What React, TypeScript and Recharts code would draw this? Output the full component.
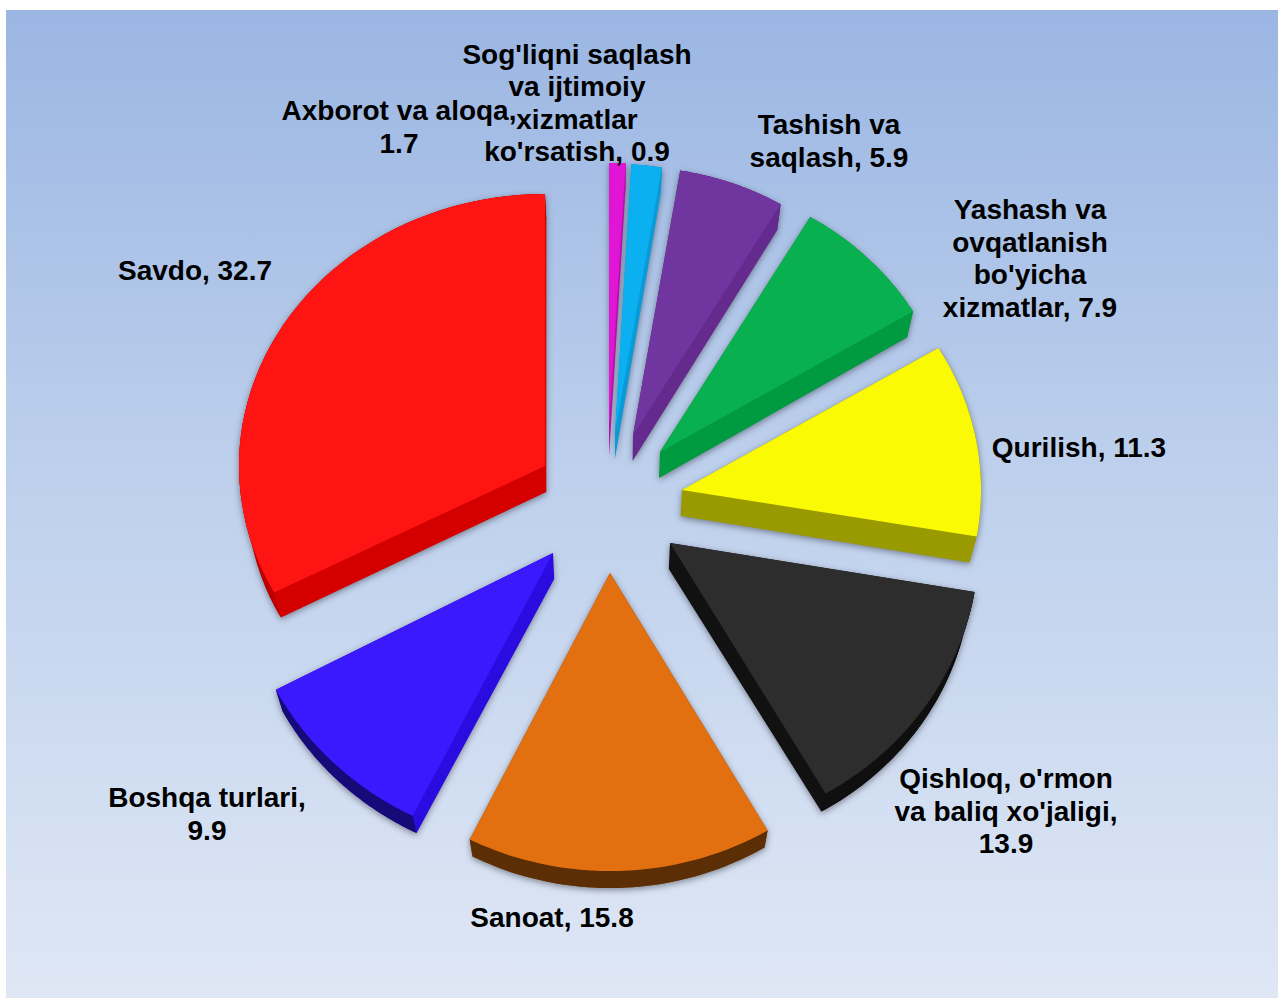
import React from 'react';
import { PieChart, Pie } from 'recharts';

const categories = ["Sog'liqni saqlash va ijtimoiy xizmatlar ko'rsatish", 'Axborot va aloqa', 'Tashish va saqlash', 'Yashash va ovqatlanish bo\'yicha xizmatlar', 'Qurilish', "Qishloq, o'rmon va baliq xo'jaligi", 'Sanoat', 'Boshqa turlari', 'Savdo'];
const values = [0.9, 1.7, 5.9, 7.9, 11.3, 13.9, 15.8, 9.9, 32.7];
const labelLines = [
  ["Sog'liqni saqlash", 'va ijtimoiy', 'xizmatlar', "ko'rsatish, 0.9"],
  ['Axborot va aloqa,', '1.7'],
  ['Tashish va', 'saqlash, 5.9'],
  ['Yashash va', 'ovqatlanish', "bo'yicha", 'xizmatlar, 7.9'],
  ['Qurilish, 11.3'],
  ["Qishloq, o'rmon", "va baliq xo'jaligi,", '13.9'],
  ['Sanoat, 15.8'],
  ['Boshqa turlari,', '9.9'],
  ['Savdo, 32.7'],
];
const faceColors = ['#e015d5', '#0ab0f0', '#7135a0', '#08b050', '#fafa05', '#2d2d2d', '#e37010', '#3a19ff', '#ff1414'];
const sideColors = ['#b810a8', '#0a9ad8', '#642a8d', '#009a40', '#999900', '#111111', '#8a4a0a', '#2a0ce0', '#d40000'];
const rimColors = ['#b810a8', '#0a9ad8', '#642a8d', '#009a40', '#999900', '#0f0f0f', '#5c2e06', '#150a78', '#b80000'];

// page position of the plot, and the per-slice explosion / perspective
const PAGE_X = 6;
const PAGE_Y = 10;
const CHART_W = 1272;
const CHART_H = 988;
const CX = 612 - PAGE_X;
const CY = 508 - PAGE_Y;
const apexX = [609, 615, 633, 660, 682, 670, 610, 553, 545];
const apexY = [430, 433, 435, 452, 490, 543, 573, 553, 466];
const radiusX = [296, 288, 290, 295, 299, 309, 313, 313, 306];
const radiusY = [267, 269, 268, 273, 276, 290, 298, 294, 272];
const labelX = [577, 399, 829, 1030, 1079, 1006, 552, 207, 195];
const labelY = [63.5, 120, 134, 219, 457, 788, 927, 807, 280];
const LINE_H = 32.5;

type P = { x: number; y: number };

const wall = (p: P): P => {
  const py = p.y + PAGE_Y;
  const dy = py <= 560 ? 26 : Math.max(17, 26 - (py - 560) * 0.034);
  return { x: p.x + (CX - p.x) * 0.02, y: p.y + dy };
};

const hull = (pts: P[]): P[] => {
  const s = [...pts].sort((a, b) => a.x - b.x || a.y - b.y);
  const cross = (o: P, a: P, b: P) => (a.x - o.x) * (b.y - o.y) - (a.y - o.y) * (b.x - o.x);
  const lower: P[] = [];
  for (const p of s) {
    while (lower.length >= 2 && cross(lower[lower.length - 2], lower[lower.length - 1], p) <= 0) lower.pop();
    lower.push(p);
  }
  const upper: P[] = [];
  for (const p of [...s].reverse()) {
    while (upper.length >= 2 && cross(upper[upper.length - 2], upper[upper.length - 1], p) <= 0) upper.pop();
    upper.push(p);
  }
  return [...lower.slice(0, -1), ...upper.slice(0, -1)];
};

const toPath = (pts: P[]) => pts.map((p, i) => `${i ? 'L' : 'M'}${p.x.toFixed(1)} ${p.y.toFixed(1)}`).join('') + 'Z';

const Slice = (props: any) => {
  const i = categories.indexOf(props.name ?? props.payload?.name);
  const ax = apexX[i] - PAGE_X;
  const ay = apexY[i] - PAGE_Y;
  const a0 = props.startAngle;
  const a1 = props.endAngle;
  const arc: P[] = [];
  const n = 48;
  for (let k = 0; k <= n; k++) {
    const t = ((a0 + (a1 - a0) * (k / n)) * Math.PI) / 180;
    arc.push({ x: ax + radiusX[i] * Math.cos(t), y: ay - radiusY[i] * Math.sin(t) });
  }
  const apex = { x: ax, y: ay };
  const face = [apex, ...arc];
  const side = hull([...face, ...face.map(wall)]);
  const rim = [...arc, ...arc.map(wall).reverse()];
  return (
    <g style={{ filter: 'drop-shadow(0px 2px 3px rgba(40,40,50,0.5))' }}>
      <path d={toPath(side)} fill={sideColors[i]} />
      <path d={toPath(rim)} fill={rimColors[i]} />
      <path d={toPath(face)} fill={faceColors[i]} />
    </g>
  );
};

const renderLabel = (props: any) => {
  const i = props.index;
  return (
    <text
      key={i}
      x={labelX[i] - PAGE_X}
      y={labelY[i] - PAGE_Y}
      textAnchor="middle"
      fontFamily="'Liberation Sans', Arial, sans-serif"
      fontWeight="bold"
      fontSize={28}
      fill="#000000"
    >
      {labelLines[i].map((line, j) => (
        <tspan key={j} x={labelX[i] - PAGE_X} y={labelY[i] - PAGE_Y + j * LINE_H}>
          {line}
        </tspan>
      ))}
    </text>
  );
};

const data = categories.map((name, i) => ({ name, value: values[i] }));

export default function App() {
  return (
    <div
      style={{
        position: 'absolute',
        left: PAGE_X,
        top: PAGE_Y,
        width: CHART_W,
        height: CHART_H,
        background: 'linear-gradient(180deg, #9bb6e3 0%, #bccfec 45%, #dfe7f5 100%)',
      }}
    >
      <PieChart width={CHART_W} height={CHART_H} margin={{ top: 0, right: 0, bottom: 0, left: 0 }}>
        <Pie
          data={data}
          dataKey="value"
          nameKey="name"
          cx={CX}
          cy={CY}
          outerRadius={300}
          startAngle={90}
          endAngle={-270}
          stroke="none"
          isAnimationActive={false}
          shape={Slice}
          label={renderLabel}
          labelLine={false}
        />
      </PieChart>
    </div>
  );
}
